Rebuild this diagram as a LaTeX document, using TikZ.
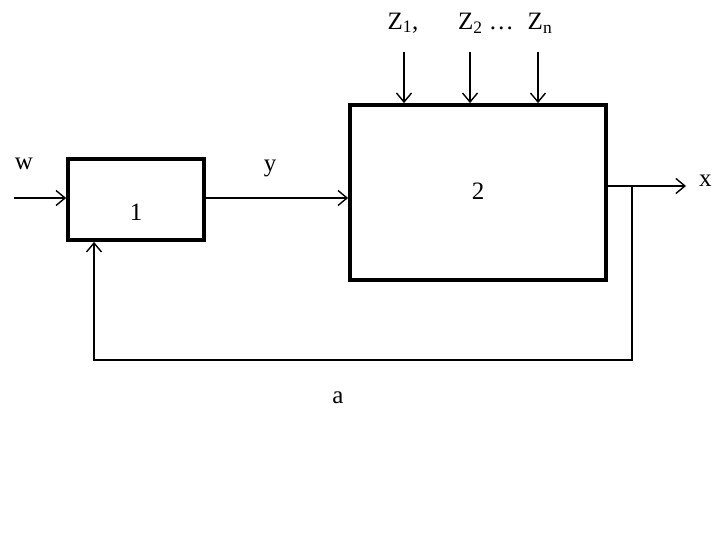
\documentclass[tikz,border=0pt]{standalone}
\usepackage{fontspec}
\setmainfont{Liberation Serif}
\usetikzlibrary{arrows.meta}
\begin{document}
\begin{tikzpicture}[x=1pt,y=-1pt,
  blk/.style={draw,line width=3.8pt,inner sep=0pt},
  conn/.style={line width=1.4pt,-{Straight Barb[length=9pt,width=15pt,line width=1.4pt]}},
  lbl/.style={font=\fontsize{25}{27}\selectfont,inner sep=0pt}]
\useasboundingbox (0,0) rectangle (720,540);
\node[blk,minimum width=136pt,minimum height=81pt] (b1) at (136,199.5) {};
\node[lbl] (t1) at (136,212) {1};
\node[blk,minimum width=256pt,minimum height=175pt] (b2) at (478,192.5) {};
\node[lbl] (t2) at (478,191) {2};
\coordinate (win) at (14,198);
\draw[conn] (win) -- (b1.west |- win);
\node[lbl] (w) at (24,164) {w};
\draw[conn] (b1.east |- win) -- (b2.west |- win);
\node[lbl] (y) at (270,168) {y};
\coordinate (xout) at (686,186);
\draw[conn] (b2.east |- xout) -- (xout);
\node[lbl,anchor=west] (x) at (699,181) {x};
\coordinate (fb1) at (632,186);
\coordinate (fb2) at (632,360);
\coordinate (fb3) at (94,360);
\draw[conn] (fb1) -- (fb2) -- (fb3) -- (b1.south -| fb3);
\foreach \i/\xx in {1/404,2/470,3/538}{
  \coordinate (z\i) at (\xx,52);
  \draw[conn] (z\i) -- (b2.north -| z\i);
}
\node[lbl] (lz1) at (403,23) {Z\textsubscript{1},};
\node[lbl] (lz2) at (486,23) {Z\textsubscript{2} \ldots};
\node[lbl] (lzn) at (540,23) {Z\textsubscript{n}};
\node[lbl] (a) at (338,398) {a};
\end{tikzpicture}
\end{document}
